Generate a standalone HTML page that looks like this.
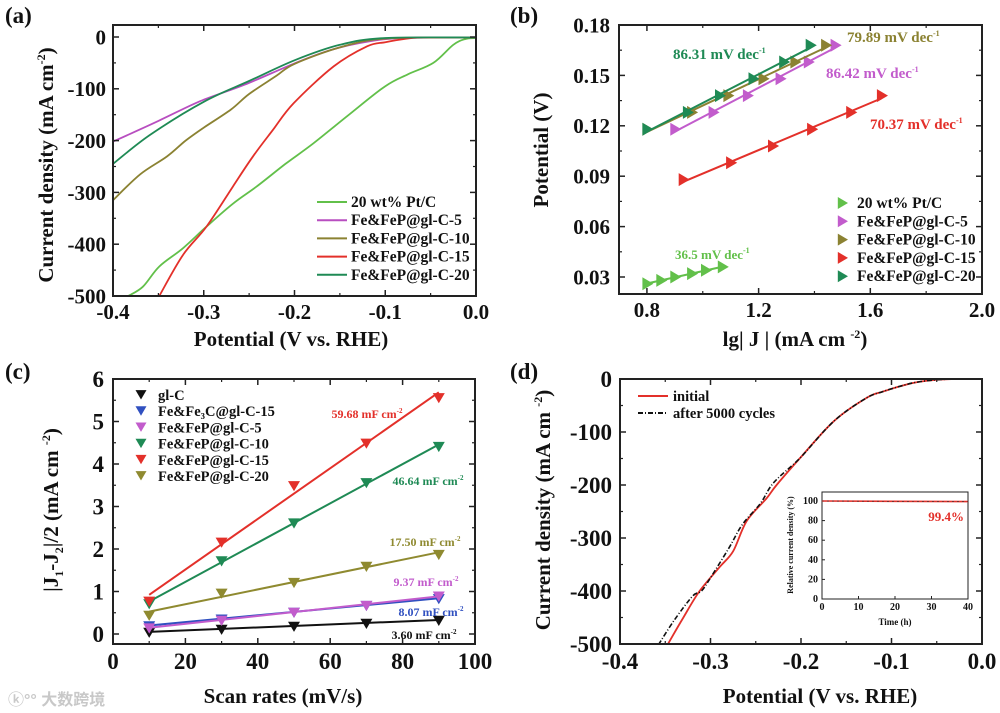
<!DOCTYPE html>
<html><head><meta charset="utf-8">
<style>
html,body{margin:0;padding:0;background:#fff;}
svg{display:block;font-family:"Liberation Serif",serif;font-weight:bold;}
</style></head>
<body>
<svg id="fig" width="1000" height="713" viewBox="0 0 1000 713" xmlns="http://www.w3.org/2000/svg"></svg>
<script>
// ---------- Panel (a) data ----------
const aSeriesNames = ["20 wt% Pt/C","Fe&FeP@gl-C-5","Fe&FeP@gl-C-10","Fe&FeP@gl-C-15","Fe&FeP@gl-C-20"];
const aPtV = [0,-0.012,-0.025,-0.047,-0.075,-0.1,-0.14,-0.179,-0.21,-0.242,-0.268,-0.297,-0.323,-0.349,-0.367,-0.383];
const aPtJ = [-2,-4,-15,-50,-72,-95,-150,-205,-245,-289,-322,-366,-408,-443,-482,-500];
const aFe5V = [0,-0.08,-0.12,-0.16,-0.2,-0.255,-0.304,-0.35,-0.4];
const aFe5J = [-1,-2,-9,-25,-51,-92,-124,-162,-202];
const aFe10V = [0,-0.1,-0.15,-0.2,-0.22,-0.25,-0.27,-0.3,-0.32,-0.34,-0.37,-0.4];
const aFe10J = [-1,-3,-20,-52,-75,-110,-140,-175,-200,-230,-265,-315];
const aFe15V = [0,-0.06,-0.08,-0.1,-0.12,-0.157,-0.201,-0.224,-0.246,-0.268,-0.297,-0.323,-0.349];
const aFe15J = [-1,-1,-4,-10,-18,-57,-128,-180,-231,-289,-366,-421,-500];
const aFe20V = [0,-0.1,-0.15,-0.2,-0.25,-0.3,-0.36,-0.4];
const aFe20J = [-1,-2,-15,-45,-85,-125,-190,-245];
const aXTicks = [-0.4,-0.3,-0.2,-0.1,0.0];
const aXTickLabels = ["-0.4","-0.3","-0.2","-0.1","0.0"];
const aYTicks = [0,-100,-200,-300,-400,-500];
const aYTickLabels = ["0","-100","-200","-300","-400","-500"];

// ---------- Panel (b) data ----------
const bSeriesNames = ["20 wt% Pt/C","Fe&FeP@gl-C-5","Fe&FeP@gl-C-10","Fe&FeP@gl-C-15","Fe&FeP@gl-C-20"];
const bPtX = [0.80,0.85,0.90,0.96,1.01,1.07];
const bPtY = [0.026,0.028,0.030,0.032,0.034,0.036];
const bFe5X = [0.90,1.037,1.16,1.277,1.378,1.474];
const bFe5Y = [0.118,0.128,0.138,0.148,0.158,0.168];
const bFe10X = [0.80,0.96,1.09,1.216,1.33,1.44];
const bFe10Y = [0.118,0.128,0.138,0.148,0.158,0.168];
const bFe15X = [0.93,1.10,1.25,1.39,1.53,1.64];
const bFe15Y = [0.088,0.098,0.108,0.118,0.128,0.138];
const bFe20X = [0.80,0.945,1.06,1.18,1.29,1.385];
const bFe20Y = [0.118,0.128,0.138,0.148,0.158,0.168];
const bSlopeLabels = ["36.5 mV dec","86.42 mV dec","79.89 mV dec","70.37 mV dec","86.31 mV dec"];
const bXTicks = [0.8,1.2,1.6,2.0];
const bXTickLabels = ["0.8","1.2","1.6","2.0"];
const bYTicks = [0.03,0.06,0.09,0.12,0.15,0.18];
const bYTickLabels = ["0.03","0.06","0.09","0.12","0.15","0.18"];

// ---------- Panel (c) data ----------
const cScanRates = [10,30,50,70,90];
const cSeriesNames = ["gl-C","Fe&Fe\u2083C@gl-C-15","Fe&FeP@gl-C-5","Fe&FeP@gl-C-10","Fe&FeP@gl-C-15","Fe&FeP@gl-C-20"];
const cGlC = [0.05,0.12,0.19,0.26,0.33];
const cFe3C = [0.20,0.36,0.52,0.68,0.84];
const cFe5 = [0.15,0.33,0.52,0.68,0.90];
const cFe10 = [0.72,1.73,2.62,3.57,4.42];
const cFe15 = [0.78,2.17,3.50,4.50,5.57];
const cFe20 = [0.45,0.97,1.22,1.60,1.88];
const cCapLabels = ["3.60 mF cm","8.07 mF cm","9.37 mF cm","46.64 mF cm","59.68 mF cm","17.50 mF cm"];
const cXTicks = [0,20,40,60,80,100];
const cXTickLabels = ["0","20","40","60","80","100"];
const cYTicks = [0,1,2,3,4,5,6];
const cYTickLabels = ["0","1","2","3","4","5","6"];

// ---------- Panel (d) data ----------
const dInitV = [0,-0.03,-0.054,-0.075,-0.091,-0.11,-0.128,-0.164,-0.201,-0.227,-0.238,-0.26,-0.275,-0.29,-0.312,-0.33,-0.347];
const dInitJ = [0,0,-2,-7,-14,-24,-36,-80,-149,-200,-225,-268,-325,-355,-400,-450,-500];
const dAfterV = [0,-0.03,-0.054,-0.075,-0.091,-0.11,-0.128,-0.164,-0.201,-0.23,-0.245,-0.265,-0.28,-0.3,-0.31,-0.32,-0.34,-0.357];
const dAfterJ = [0,0,-2,-7,-14,-24,-36,-80,-149,-195,-235,-275,-320,-375,-400,-410,-455,-500];
const dXTicks = [-0.4,-0.3,-0.2,-0.1,0.0];
const dXTickLabels = ["-0.4","-0.3","-0.2","-0.1","0.0"];
const dYTicks = [0,-100,-200,-300,-400,-500];
const dYTickLabels = ["0","-100","-200","-300","-400","-500"];
const insetTime = [0,40];
const insetRel = [100,99.4];
const insetXTicks = [0,10,20,30,40];
const insetYTicks = [0,20,40,60,80,100];

// ---------- helpers ----------
const NS = "http://www.w3.org/2000/svg";
const fig = document.getElementById("fig");
function el(tag, parent){ const e=document.createElementNS(NS,tag); (parent||fig).appendChild(e); return e; }
function set(e, obj){ for(const k in obj) e.setAttribute(k,obj[k]); return e; }
function lin(d0,d1,r0,r1){ return v => r0 + (v-d0)/(d1-d0)*(r1-r0); }
function txt(parent, x, y, s, size, anchor, color){
  const t=el("text",parent); set(t,{x:x,y:y,"font-size":size,"text-anchor":anchor||"start",fill:color||"#111"}); t.textContent=s; return t;
}
function smooth(parent, xs, ys, sx, sy, color, w, dash){
  const P=xs.map((v,i)=>[sx(v),sy(ys[i])]);
  let d="M"+P[0][0].toFixed(1)+","+P[0][1].toFixed(1);
  for(let i=0;i<P.length-1;i++){
    const p0=P[Math.max(0,i-1)],p1=P[i],p2=P[i+1],p3=P[Math.min(P.length-1,i+2)];
    const c1=[p1[0]+(p2[0]-p0[0])/6,p1[1]+(p2[1]-p0[1])/6];
    const c2=[p2[0]-(p3[0]-p1[0])/6,p2[1]-(p3[1]-p1[1])/6];
    d+=" C"+c1[0].toFixed(1)+","+c1[1].toFixed(1)+" "+c2[0].toFixed(1)+","+c2[1].toFixed(1)+" "+p2[0].toFixed(1)+","+p2[1].toFixed(1);
  }
  const p=el("path",parent);
  set(p,{d:d,fill:"none",stroke:color,"stroke-width":w||1.6,"stroke-linejoin":"round"});
  if(dash) p.setAttribute("stroke-dasharray",dash);
  return p;
}
function polyline(parent, xs, ys, sx, sy, color, w, dash){
  const p=el("polyline",parent);
  set(p,{points:xs.map((v,i)=>sx(v).toFixed(1)+","+sy(ys[i]).toFixed(1)).join(" "),fill:"none",stroke:color,"stroke-width":w||1.6});
  if(dash) p.setAttribute("stroke-dasharray",dash);
  return p;
}
function tri(parent, cx, cy, s, dir, color){
  const p=el("polygon",parent); let pts;
  if(dir==="right") pts=[[cx-s*0.7,cy-s],[cx-s*0.7,cy+s],[cx+s,cy]];
  else pts=[[cx-s,cy-s*0.7],[cx+s,cy-s*0.7],[cx,cy+s]];
  set(p,{points:pts.map(q=>q[0].toFixed(1)+","+q[1].toFixed(1)).join(" "),fill:color});
  return p;
}
function frame(parent,x0,y0,x1,y1){
  const r=el("rect",parent); set(r,{x:x0,y:y0,width:x1-x0,height:y1-y0,fill:"none",stroke:"#222","stroke-width":2});
  return r;
}
function axes(parent,box,sx,sy,xt,xl,yt,yl,fs,ylx){
  const g=el("g",parent);
  xt.forEach((v,i)=>{
    const x=sx(v);
    const l=el("line",g); set(l,{x1:x,x2:x,y1:box.y1,y2:box.y1-6,stroke:"#222","stroke-width":1.5});
    const l2=el("line",g); set(l2,{x1:x,x2:x,y1:box.y0,y2:box.y0+6,stroke:"#222","stroke-width":1.5});
    if(i<xt.length-1){ const m=sx((v+xt[i+1])/2);
      const l3=el("line",g); set(l3,{x1:m,x2:m,y1:box.y1,y2:box.y1-3,stroke:"#222","stroke-width":1.2});
      const l4=el("line",g); set(l4,{x1:m,x2:m,y1:box.y0,y2:box.y0+3,stroke:"#222","stroke-width":1.2}); }
    const t=txt(g,x,box.y1+fs+2,xl[i],fs,"middle");
    
    
  });
  yt.forEach((v,i)=>{
    const y=sy(v);
    const l=el("line",g); set(l,{x1:box.x0,x2:box.x0+6,y1:y,y2:y,stroke:"#222","stroke-width":1.5});
    const l2=el("line",g); set(l2,{x1:box.x1,x2:box.x1-6,y1:y,y2:y,stroke:"#222","stroke-width":1.5});
    if(i<yt.length-1){ const m=sy((v+yt[i+1])/2);
      const l3=el("line",g); set(l3,{x1:box.x0,x2:box.x0+3,y1:m,y2:m,stroke:"#222","stroke-width":1.2});
      const l4=el("line",g); set(l4,{x1:box.x1,x2:box.x1-3,y1:m,y2:m,stroke:"#222","stroke-width":1.2}); }
    const t=txt(g,ylx,y+fs*0.35,yl[i],fs,"end");
    
    
  });
  return g;
}
function fit(xs,ys){
  const n=xs.length; let sx=0,sy=0,sxx=0,sxy=0;
  for(let i=0;i<n;i++){sx+=xs[i];sy+=ys[i];sxx+=xs[i]*xs[i];sxy+=xs[i]*ys[i];}
  const m=(n*sxy-sx*sy)/(n*sxx-sx*sx); return {m:m,b:(sy-m*sx)/n};
}

const cPt="#62c04a", cMag="#b84ec0", cOl="#8b8232", cRed="#e3302a", cDg="#1f8a55", cBlue="#3050c0";

// ========== Panel (a) ==========
(function(){
  const g=el("g");  
  const box={x0:113,y0:25,x1:476,y1:296};
  const sx=lin(-0.4,0,113,476), sy=lin(0,-500,37,296);
  const lab=txt(g,5,23,"(a)",23,"start");  
  const clip=el("clipPath",g); clip.setAttribute("id","clipA");
  const cr=el("rect",clip); set(cr,{x:box.x0,y:box.y0,width:box.x1-box.x0,height:box.y1-box.y0});
  const lg=el("g",g); lg.setAttribute("clip-path","url(#clipA)");
  const series=[[aPtV,aPtJ,cPt],[aFe5V,aFe5J,cMag],[aFe10V,aFe10J,cOl],[aFe15V,aFe15J,cRed],[aFe20V,aFe20J,cDg]];
  const snames=["pt-c-curve","fe-fep-5-curve","fe-fep-10-curve","fe-fep-15-curve","fe-fep-20-curve"];
  series.forEach((s,i)=>{ const p=smooth(lg,s[0],s[1],sx,sy,s[2],1.8);
      });
  const f=frame(g,box.x0,box.y0,box.x1,box.y1);  
  axes(g,box,sx,sy,aXTicks,aXTickLabels,aYTicks,aYTickLabels,21,106);
  const xt=txt(g,291,346,"Potential (V vs. RHE)",21,"middle");  
  const yt=txt(g,0,0,"",21,"middle"); yt.setAttribute("transform","translate(53,165) rotate(-90)");
  yt.innerHTML='Current density (mA cm<tspan font-size="12" dy="-8">-2</tspan><tspan dy="8">)</tspan>';
   
  const cols=[cPt,cMag,cOl,cRed,cDg];
  aSeriesNames.forEach((n,i)=>{ const y=202+i*18.2;
    const le=el("g",g);  
    const l=el("line",le); set(l,{x1:317,x2:347,y1:y,y2:y,stroke:cols[i],"stroke-width":2});
    txt(le,351,y+5,n,15.5,"start"); });
})();

// ========== Panel (b) ==========
(function(){
  const g=el("g");  
  const box={x0:619,y0:25,x1:982,y1:294};
  const sx=lin(0.7,2.0,619,982), sy=lin(0.18,0.03,25,277);
  const lab=txt(g,510,23,"(b)",23,"start");  
  const series=[[bPtX,bPtY,cPt],[bFe5X,bFe5Y,"#c25ccc"],[bFe10X,bFe10Y,cOl],[bFe15X,bFe15Y,cRed],[bFe20X,bFe20Y,cDg]];
  const snames=["pt-c-tafel","fe-fep-5-tafel","fe-fep-10-tafel","fe-fep-15-tafel","fe-fep-20-tafel"];
  series.forEach((s,i)=>{
    const sg=el("g",g);  
    const ft=fit(s[0],s[1]); const x0=s[0][0], x1=s[0][s[0].length-1];
    const l=el("line",sg); set(l,{x1:sx(x0),y1:sy(ft.m*x0+ft.b),x2:sx(x1),y2:sy(ft.m*x1+ft.b),stroke:s[2],"stroke-width":2});
    s[0].forEach((v,j)=>{ const m=tri(sg,sx(v),sy(s[1][j]),6.5,"right",s[2]);
        });
  });
  const f=frame(g,box.x0,box.y0,box.x1,box.y1);  
  axes(g,box,sx,sy,bXTicks,bXTickLabels,bYTicks,bYTickLabels,21,610);
  const xt=txt(g,795,346,"",21,"middle");
  xt.innerHTML='lg| J | (mA cm <tspan font-size="12" dy="-8">-2</tspan><tspan dy="8">)</tspan>';
   
  const yt=txt(g,0,0,"Potential (V)",21,"middle"); yt.setAttribute("transform","translate(548,150) rotate(-90)");
   
  const ann=[[675,259,cPt,13],[826,78,"#c25ccc",15],[847,42,cOl,15],[870,129,cRed,15],[673,59,cDg,15]];
  bSlopeLabels.forEach((s,i)=>{ const a=ann[i];
    const t=txt(g,a[0],a[1],"",a[3],"start",a[2]);
    t.innerHTML=s+'<tspan font-size="8" dy="-6">-1</tspan>';
      });
  const cols=[cPt,"#c25ccc",cOl,cRed,cDg];
  bSeriesNames.forEach((n,i)=>{ const y=203+i*18.3;
    const le=el("g",g);  
    tri(le,842,y,6,"right",cols[i]);
    txt(le,857,y+5,n,15.5,"start"); });
})();

// ========== Panel (c) ==========
(function(){
  const g=el("g");  
  const box={x0:113,y0:379,x1:475,y1:644};
  const sx=lin(0,100,113,475), sy=lin(0,6,634,379);
  const lab=txt(g,5,379,"(c)",23,"start");  
  const series=[[cGlC,"#111"],[cFe3C,cBlue],[cFe5,"#c25ccc"],[cFe10,cDg],[cFe15,cRed],[cFe20,"#8f8a30"]];
  const snames=["gl-c-series","fe3c-15-series","fe-fep-5-series","fe-fep-10-series","fe-fep-15-series","fe-fep-20-series"];
  series.forEach((s,i)=>{
    const sg=el("g",g);  
    const ft=fit(cScanRates,s[0]); const x0=cScanRates[0], x1=cScanRates[cScanRates.length-1];
    const l=el("line",sg); set(l,{x1:sx(x0),y1:sy(ft.m*x0+ft.b),x2:sx(x1),y2:sy(ft.m*x1+ft.b),stroke:s[1],"stroke-width":2});
    cScanRates.forEach((v,j)=>{ const m=tri(sg,sx(v),sy(s[0][j]),6,"down",s[1]);
        });
  });
  const f=frame(g,box.x0,box.y0,box.x1,box.y1);  
  axes(g,box,sx,sy,cXTicks,cXTickLabels,cYTicks,cYTickLabels,23,104);
  const xt=txt(g,283,703,"Scan rates (mV/s)",21,"middle");  
  const yt=txt(g,0,0,"",21,"middle"); yt.setAttribute("transform","translate(58,510) rotate(-90)");
  yt.innerHTML='|J<tspan font-size="12" dy="5">1</tspan><tspan dy="-5">-J</tspan><tspan font-size="12" dy="5">2</tspan><tspan dy="-5">|/2  (mA cm </tspan><tspan font-size="12" dy="-8">-2</tspan><tspan dy="8">)</tspan>';
   
  const ann=[[424,639,"#111"],[431,616,cBlue],[426,586,"#c25ccc"],[428,485,cDg],[367,418,cRed],[425,546,"#8f8a30"]];
  cCapLabels.forEach((s,i)=>{ const a=ann[i];
    const t=txt(g,a[0],a[1],"",12,"middle",a[2]);
    t.innerHTML=s+'<tspan font-size="7" dy="-5">-2</tspan>';
      });
  const cols=["#111",cBlue,"#c25ccc",cDg,cRed,"#8f8a30"];
  cSeriesNames.forEach((n,i)=>{ const y=395+i*16.2;
    const le=el("g",g);  
    tri(le,141,y-1,5.5,"down",cols[i]);
    txt(le,158,y+5,n,14.5,"start"); });
  const wm=txt(g,8,705,"\u24DA\u00B0\u00B0 大数跨境",16,"start","#c8c8c8");
  wm.setAttribute("font-family","'Liberation Sans','Noto Sans CJK SC',sans-serif");
   
})();

// ========== Panel (d) ==========
(function(){
  const g=el("g");  
  const box={x0:620,y0:379,x1:982,y1:644};
  const sx=lin(-0.4,0,620,982), sy=lin(0,-500,379,644);
  const lab=txt(g,510,379,"(d)",23,"start");  
  const clip=el("clipPath",g); clip.setAttribute("id","clipD");
  const cr=el("rect",clip); set(cr,{x:box.x0,y:box.y0,width:box.x1-box.x0,height:box.y1-box.y0});
  const lg=el("g",g); lg.setAttribute("clip-path","url(#clipD)");
  const p1=smooth(lg,dInitV,dInitJ,sx,sy,cRed,1.8);  
  const p2=smooth(lg,dAfterV,dAfterJ,sx,sy,"#111",1.6,"5,2,1,2");  
  const f=frame(g,box.x0,box.y0,box.x1,box.y1);  
  axes(g,box,sx,sy,dXTicks,dXTickLabels,dYTicks,dYTickLabels,23,612);
  const xt=txt(g,820,703,"Potential (V vs. RHE)",21,"middle");  
  const yt=txt(g,0,0,"",21,"middle"); yt.setAttribute("transform","translate(550,510) rotate(-90)");
  yt.innerHTML='Current density (mA cm <tspan font-size="12" dy="-8">-2</tspan><tspan dy="8">)</tspan>';
   
  const le1=el("g",g);  
  const l1=el("line",le1); set(l1,{x1:638,x2:668,y1:396,y2:396,stroke:cRed,"stroke-width":2});
  txt(le1,673,401,"initial",14.5,"start");
  const le2=el("g",g);  
  const l2=el("line",le2); set(l2,{x1:638,x2:668,y1:413,y2:413,stroke:"#111","stroke-width":2,"stroke-dasharray":"5,2,1,2"});
  txt(le2,673,418,"after 5000 cycles",14.5,"start");
  // inset
  const ig=el("g",g);  
  const ib={x0:822,y0:492,x1:968,y1:599};
  const ix=lin(0,40,822,968), iy=lin(0,100,599,501);
  const ir=el("rect",ig); set(ir,{x:ib.x0,y:ib.y0,width:ib.x1-ib.x0,height:ib.y1-ib.y0,fill:"#fff",stroke:"#222","stroke-width":1});
  insetXTicks.forEach(v=>{ const l=el("line",ig); set(l,{x1:ix(v),x2:ix(v),y1:ib.y1,y2:ib.y1-3,stroke:"#222"});
    txt(ig,ix(v),ib.y1+11,String(v),10,"middle"); });
  insetYTicks.forEach(v=>{ const l=el("line",ig); set(l,{x1:ib.x0,x2:ib.x0+3,y1:iy(v),y2:iy(v),stroke:"#222"});
    txt(ig,ib.x0-4,iy(v)+3,String(v),10,"end"); });
  const il=polyline(ig,insetTime,insetRel,ix,iy,cRed,1.6);  
  polyline(ig,insetTime,insetRel,ix,iy,"#333",0.6,"2,3");
  const pct=txt(ig,964,521,"99.4%",13,"end",cRed);  
  txt(ig,895,625,"Time (h)",9,"middle");
  const iyt=txt(ig,0,0,"Relative current density (%)",8,"middle"); iyt.setAttribute("transform","translate(793,545) rotate(-90)");
})();
</script>
</body></html>
